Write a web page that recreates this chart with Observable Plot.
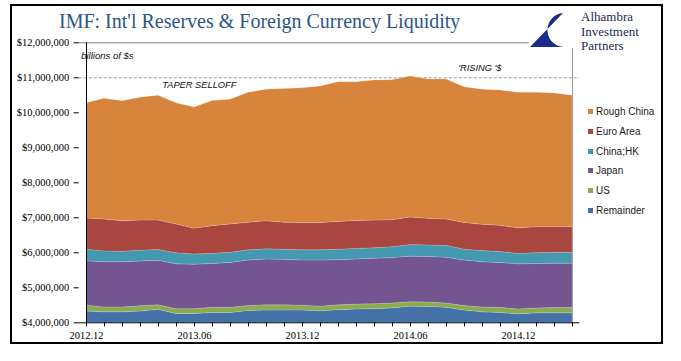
<!DOCTYPE html>
<html><head><meta charset="utf-8">
<script src="https://cdn.jsdelivr.net/npm/d3@7"></script>
<script src="https://cdn.jsdelivr.net/npm/@observablehq/plot@0.6"></script>
<style>
body{margin:0;background:#fff;}
#wrap{position:relative;width:681px;height:361px;overflow:hidden;background:#fff;}
#chart{position:absolute;left:0;top:0;}
#frame{position:absolute;left:10px;top:4px;width:653px;height:340px;border:2px solid #000;box-sizing:border-box;pointer-events:none;}
#title{position:absolute;left:59px;top:10px;font-family:'Liberation Serif',serif;font-size:20px;color:#2b5687;white-space:nowrap;}
#logo{position:absolute;left:529px;top:12px;width:50px;height:36px;background:#fff;}
.lt{position:absolute;left:581px;font-family:'Liberation Serif',serif;font-size:13px;line-height:14px;height:14px;color:#1d2a55;white-space:nowrap;}
#legend{position:absolute;left:588px;top:102px;font-family:'Liberation Sans',Arial,sans-serif;font-size:10px;color:#222;}
.li{height:19.7px;display:flex;align-items:center;white-space:nowrap;}
.sw{width:5px;height:5px;margin-right:3px;}
</style></head><body>
<div id="wrap">
  <div id="chart"></div>
  <div id="title">IMF: Int'l Reserves &amp; Foreign Currency Liquidity</div>
  <div id="logo"><svg width="50" height="36" viewBox="0 0 50 36"><path d="M34 1 L1 35 L37 35 A17 17 0 0 1 34 1 Z" fill="#1c2c8c"/></svg></div>
  <div class="lt" style="top:10px">Alhambra</div>
  <div class="lt" style="top:24.5px">Investment</div>
  <div class="lt" style="top:39px">Partners</div>
  <div id="legend"></div>
  <div id="frame"></div>
</div>
<script>
// Months (category axis)
const months = ["2012.12","2013.01","2013.02","2013.03","2013.04","2013.05","2013.06","2013.07","2013.08","2013.09","2013.10","2013.11","2013.12",
  "2014.01","2014.02","2014.03","2014.04","2014.05","2014.06","2014.07","2014.08","2014.09","2014.10","2014.11","2014.12",
  "2015.01","2015.02","2015.03"];
const tickLabels = ["2012.12","2013.06","2013.12","2014.06","2014.12"];
const yTicks = [4000000,5000000,6000000,7000000,8000000,9000000,10000000,11000000,12000000];

// Series values (thousands of axis units), stacked bottom to top
const seriesNames = ["Remainder","US","Japan","China;HK","Euro Area","Rough China"];
const legendOrder = ["Rough China","Euro Area","China;HK","Japan","US","Remainder"];
const colors = ["#4571a9","#8cab50","#735690","#4499b0","#a9463f","#d8843d"];

const remainder = [4320,4300,4300,4320,4370,4250,4250,4280,4280,4340,4350,4350,4350,4330,4360,4380,4390,4410,4460,4450,4430,4350,4300,4280,4240,4270,4270,4270];
const us        = [170,140,140,150,130,140,140,150,150,140,150,150,140,130,140,140,140,140,130,130,120,130,140,150,140,140,150,150];
const japan     = [1270,1290,1290,1280,1270,1280,1270,1250,1280,1300,1310,1300,1290,1320,1290,1290,1300,1300,1300,1300,1310,1300,1290,1280,1290,1270,1270,1270];
const chinaHK   = [330,310,300,310,310,320,290,290,290,290,290,290,290,290,300,300,300,310,330,330,340,310,320,310,300,310,310,310];
const euroArea  = [890,910,870,860,840,820,740,790,810,790,800,770,780,780,790,800,790,770,790,760,750,760,750,750,730,740,740,730];
const roughChina= [3290,3450,3430,3510,3570,3460,3460,3580,3560,3710,3760,3820,3850,3900,3990,3960,4000,4000,4030,3980,4000,3880,3860,3870,3870,3840,3810,3760];

const seriesValues = [remainder, us, japan, chinaHK, euroArea, roughChina];
const rows = [];
seriesNames.forEach((s, k) => months.forEach((m, i) => rows.push({month: m, series: s, value: seriesValues[k][i] * 1000})));

const serif = "'Liberation Serif', 'Times New Roman', serif";
const sans = "'Liberation Sans', Arial, sans-serif";

const chart = Plot.plot({
  width: 681, height: 361,
  marginLeft: 78.7, marginRight: 101.7, marginTop: 42.3, marginBottom: 38.7,
  style: {background: "transparent", fontFamily: serif, fontSize: "10.5px", color: "#000"},
  x: {type: "point", domain: months, padding: 0, label: null},
  y: {domain: [4000000, 12000000], label: null},
  color: {domain: seriesNames, range: colors},
  marks: [
    Plot.ruleY([12000000], {stroke: "#7f7f7f"}),
    Plot.ruleX([months[months.length - 1]], {stroke: "#9a9a9a"}),
    Plot.ruleY([11000000], {stroke: "#9a9a9a", strokeDasharray: "3,2"}),
    Plot.areaY(rows, {x: "month", y: "value", fill: "series", order: seriesNames, clip: true,
      stroke: "#ffffff", strokeOpacity: 0.25, strokeWidth: 0.6}),
    Plot.ruleX([months[0]], {stroke: "#000"}),
    Plot.ruleY([4000000], {stroke: "#000"}),
    Plot.axisY({ticks: yTicks, tickFormat: d3.format("$,.0f"), tickSize: 5, tickPadding: 5, label: null,
      fontFamily: serif, fontSize: 10.5, fill: "#000"}),
    Plot.axisX({ticks: months, tickFormat: d => tickLabels.includes(d) ? d : "", tickSize: 4, tickPadding: 5, label: null,
      fontFamily: serif, fontSize: 10.5, fill: "#000"}),
    Plot.text(["billions of $s"], {frameAnchor: "top-left", dx: 2, dy: 12.7, textAnchor: "start", lineAnchor: "middle",
      fontFamily: sans, fontSize: 9.5, fontStyle: "italic", fill: "#111"}),
    Plot.text(["TAPER SELLOFF"], {frameAnchor: "top-left", dx: 83, dy: 42.7, textAnchor: "start", lineAnchor: "middle",
      fontFamily: sans, fontSize: 9.3, fontStyle: "italic", fill: "#111"}),
    Plot.text(["'RISING '$"], {frameAnchor: "top-left", dx: 379, dy: 25, textAnchor: "start", lineAnchor: "middle",
      fontFamily: sans, fontSize: 9.3, fontStyle: "italic", fill: "#111"})
  ]
});
document.getElementById("chart").appendChild(chart);
d3.select(chart).selectAll('g[aria-label$="tick label"]').style("font-family", serif);

const legend = d3.select("#legend");
legendOrder.forEach(name => {
  const row = legend.append("div").attr("class", "li");
  row.append("div").attr("class", "sw").style("background", colors[seriesNames.indexOf(name)]);
  row.append("span").text(name);
});
</script>
</body></html>
